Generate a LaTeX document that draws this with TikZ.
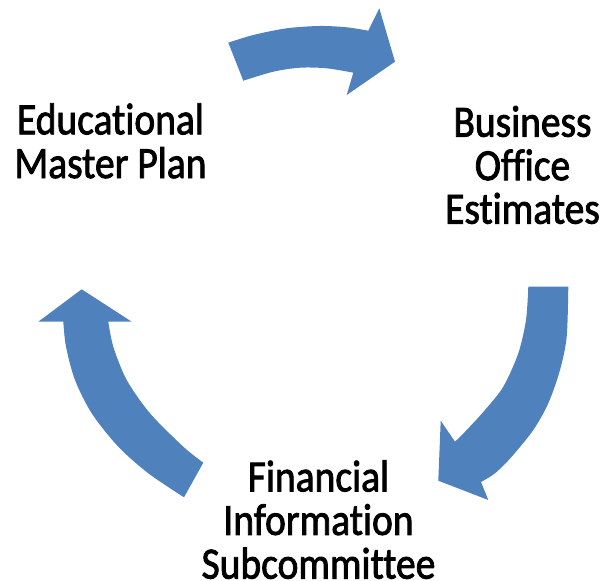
\documentclass[tikz,border=0pt]{standalone}
\usepackage{fontspec}
\usepackage{graphicx}
\setmainfont{Carlito}[Ligatures={NoCommon,NoContextual}]
\newfontfamily\lblfont{Carlito}[Ligatures={NoCommon,NoContextual}, FakeBold=2]
\definecolor{arrowblue}{RGB}{79,129,189}
\tikzset{
  cyclearrow/.style={fill=arrowblue, draw=none},
  lbl/.style={anchor=base, inner sep=0pt, text=black, font=\lblfont\fontsize{39.5}{37.6}\selectfont}
}
\newcommand{\stretchlines}[1]{\scalebox{1}[1.13]{\begin{tabular}[t]{@{}c@{}}#1\end{tabular}}}
\begin{document}
\begin{tikzpicture}[x=1pt,y=1pt]
\useasboundingbox (0,0) rectangle (603,581);
% labels
\node[lbl] (emp) at (110.5,446.7) {\stretchlines{Educational\\Master Plan}};
\node[lbl] (boe) at (522.5,444.3) {\stretchlines{Business\\Office\\Estimates}};
\node[lbl] (fis) at (318.5,89.6) {\stretchlines{Financial\\Information\\Subcommittee}};
% top arrow
\fill[cyclearrow] plot[smooth] coordinates {(228.3,538.3) (253.3,546) (286.7,552.7) (320,555) (346.7,553.7) (368.3,550.3)}
  -- (379.3,572.7) -- (395,519.3) -- (346.7,486)
  -- plot[smooth] coordinates {(353.3,508.3) (326.7,512.7) (300,513.3) (273.3,509.3) (243.3,500.3)} -- cycle;
% right arrow
\fill[cyclearrow] plot[smooth] coordinates {(568.3,294.3) (566.7,244.3) (560,211) (548.3,177.7) (533.3,151) (511.7,124.3) (495,107.7) (481,99)}
  -- (488.3,81) -- (438.3,100.3) -- (440.7,160.3)
  -- plot[smooth] coordinates {(455,139.3) (466.7,151) (485,171) (503.3,194.3) (518.3,227.7) (526,261) (528.3,294.3)} -- cycle;
% left arrow
\fill[cyclearrow] plot[smooth] coordinates {(184,83.7) (148.3,107.7) (118.3,134.3) (91.7,167.7) (75,201) (66,234.3) (63.3,259.3)}
  -- (38.3,259.3) -- (81.7,291.7) -- (131.7,259.3)
  -- plot[smooth] coordinates {(108.3,259.3) (113.3,234.3) (126.7,201) (150,167.7) (183.3,134.3) (203.3,118.3)} -- cycle;
\end{tikzpicture}
\end{document}
